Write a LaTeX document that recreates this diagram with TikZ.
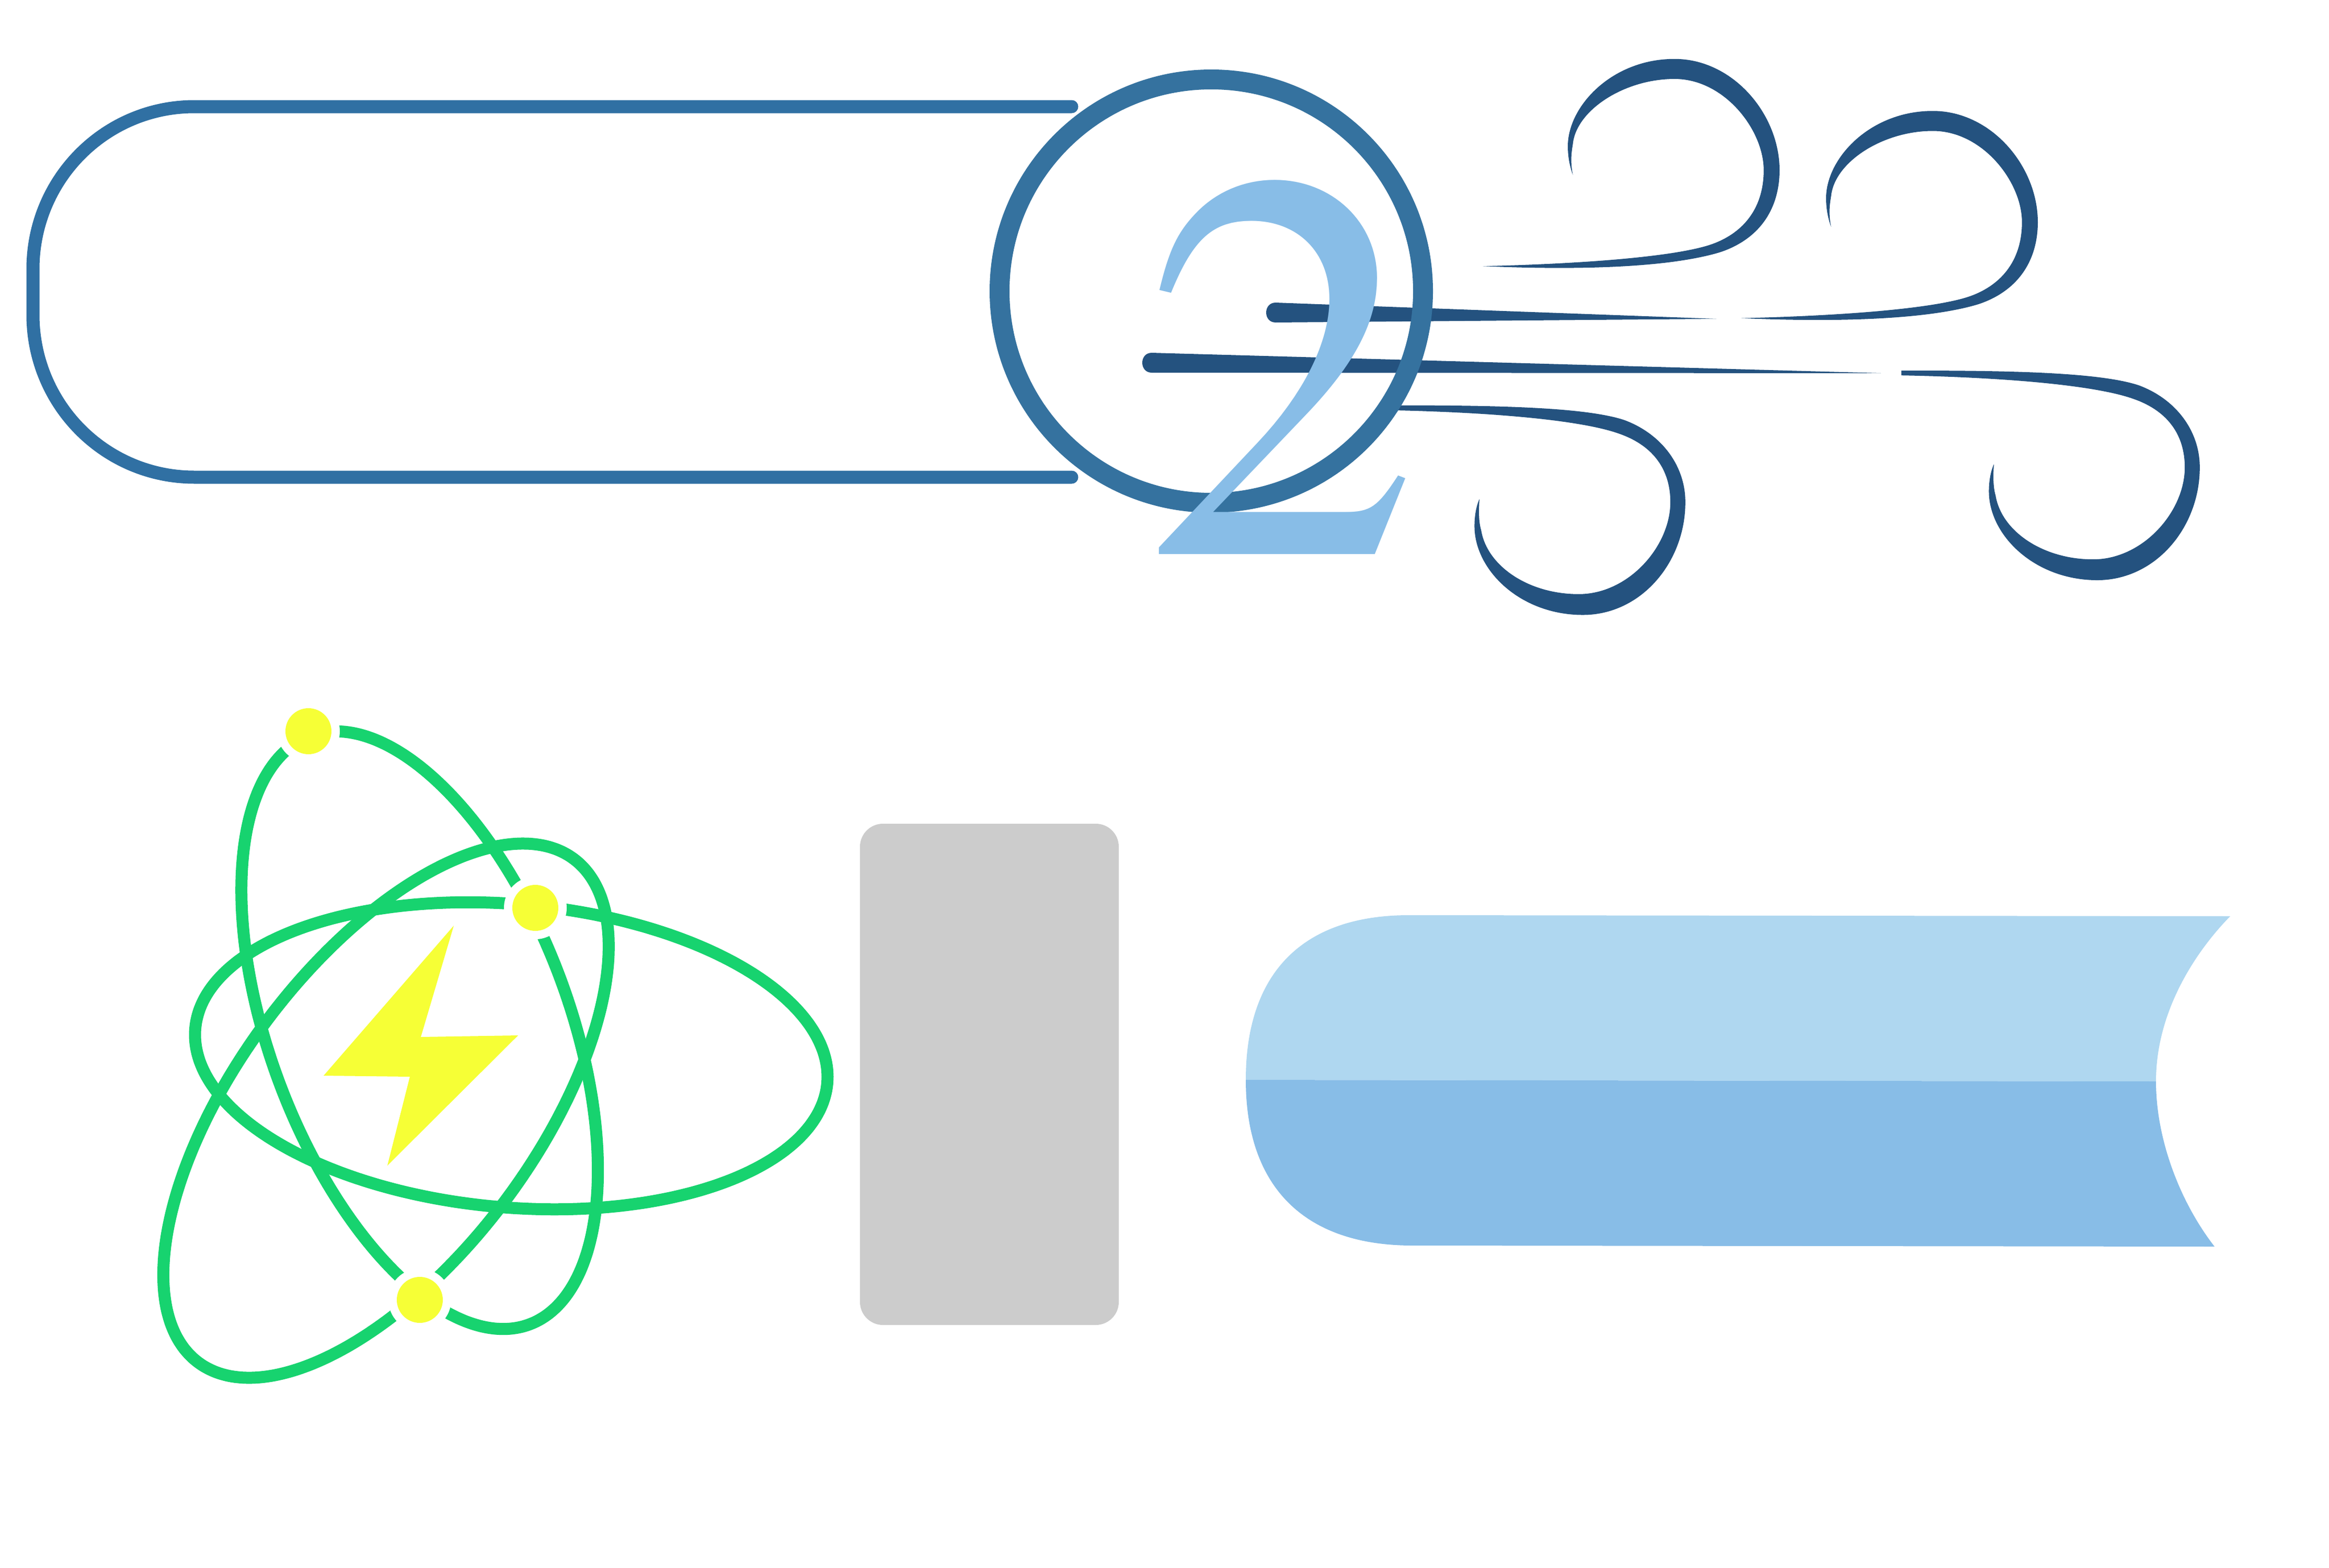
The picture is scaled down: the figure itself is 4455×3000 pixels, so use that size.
\documentclass[tikz,border=0pt]{standalone}
\usepackage{fontspec}
\newfontfamily\twofont{TeX Gyre Termes}
\definecolor{pillblue}{HTML}{3070A3}
\definecolor{ringblue}{HTML}{35729F}
\definecolor{winddark}{HTML}{24527F}
\definecolor{twolight}{HTML}{88BDE7}
\definecolor{bookup}{HTML}{AFD7F0}
\definecolor{booklow}{HTML}{88BDE7}
\definecolor{greyrect}{HTML}{CCCCCC}
\definecolor{atomgreen}{HTML}{17D36F}
\definecolor{atomyellow}{HTML}{F6FF36}
\tikzset{
  windshape/.style={fill=winddark},
  orbitline/.style={draw=atomgreen,line width=23pt},
  halo/.style={fill=white},
  electron/.style={fill=atomyellow},
}
\newcommand{\orbitpath}[5]{\draw[orbitline] plot[domain=0:360,samples=145,smooth] ({#1+(#3)*cos(\x)},{#2+(#4)*cos(\x)+(#5)*sin(\x)}) -- cycle;}
\newcommand{\curlup}{\fill[windshape] (650,600) .. controls (780,612) and (880,600) .. (935,565) .. controls (985,530) and (1006,450) .. (1006,360) .. controls (1006,220) and (950,82) .. (880,82) .. controls (805,82) and (752,200) .. (752,300) .. controls (752,330) and (755,355) .. (758,372) .. controls (755,340) and (756,320) .. (758,295) .. controls (762,210) and (820,132) .. (880,132) .. controls (940,132) and (987,260) .. (987,360) .. controls (987,450) and (965,515) .. (925,545) .. controls (880,578) and (760,595) .. (650,600) -- cycle;}
\newcommand{\curldown}{\fill[windshape] (535,948) .. controls (650,948) and (770,950) .. (820,985) .. controls (865,1020) and (893,1100) .. (893,1190) .. controls (893,1340) and (840,1472) .. (770,1472) .. controls (695,1472) and (640,1360) .. (640,1250) .. controls (640,1225) and (642,1200) .. (646,1182) .. controls (645,1210) and (645,1240) .. (648,1260) .. controls (655,1350) and (705,1420) .. (765,1420) .. controls (825,1420) and (875,1300) .. (875,1190) .. controls (875,1110) and (855,1050) .. (815,1020) .. controls (770,985) and (660,965) .. (535,960) -- cycle;}
\begin{document}
\begin{tikzpicture}[x=1pt,y=-1pt]
\useasboundingbox[fill=white] (0,0) rectangle (4455,3000);
% pill outline
\draw[pillblue,line width=25pt,line cap=round] (2050,204) -- (372,204) .. controls (201,204) and (63,343) .. (63,515) -- (63,602) .. controls (63,774) and (201,913) .. (372,913) -- (2050,913);
% wind
\begin{scope}[x=1.5944pt,y=-0.7653pt,xshift=1800pt,yshift=-50pt]
  \curlup
  \begin{scope}[xshift=494pt,yshift=-99.5pt]\curlup\end{scope}
  \curldown
  \begin{scope}[xshift=984pt,yshift=66.5pt]\curldown\end{scope}
\end{scope}
\fill[windshape] (3283,610) -- (2440,579) .. controls (2416,579) and (2416,617) .. (2440,617) -- cycle;
\fill[windshape] (3598,714) -- (2203,675) .. controls (2179,675) and (2179,713) .. (2203,713) -- cycle;
% ring
\draw[ringblue,line width=38pt] (2317,557) circle [radius=405pt];
% two
\node[text=twolight,inner sep=0pt,anchor=base west] (two) at (2185,1060) {\twofont\fontsize{1059}{1100}\selectfont 2};
% grey rectangle
\fill[greyrect,rounded corners=44pt] (1645,1576) rectangle (2140,2535);
% book
\fill[bookup] (2383,2066) .. controls (2383,1861) and (2492,1751) .. (2695,1751) -- (4266,1753) .. controls (4205,1815) and (4124,1930) .. (4124,2069) -- cycle;
\fill[booklow] (2383,2066) .. controls (2383,2271) and (2495,2383) .. (2702,2383) -- (4236,2385) .. controls (4170,2300) and (4124,2180) .. (4124,2069) -- cycle;
% atom
\orbitpath{978}{2020}{605}{40.2}{291}
\orbitpath{802.7}{1971}{341}{268}{505}
\orbitpath{738.4}{2125}{426}{-314.3}{403}
\foreach \ex/\ey in {590/1399,1024/1737,803/2487}{
  \fill[halo] (\ex,\ey) circle [radius=60pt];
  \fill[electron] (\ex,\ey) circle [radius=44pt];
}
\fill[electron] (868,1771) -- (805,1984) -- (991,1981) -- (741,2230) -- (784,2060) -- (619,2058) -- cycle;
\end{tikzpicture}
\end{document}
